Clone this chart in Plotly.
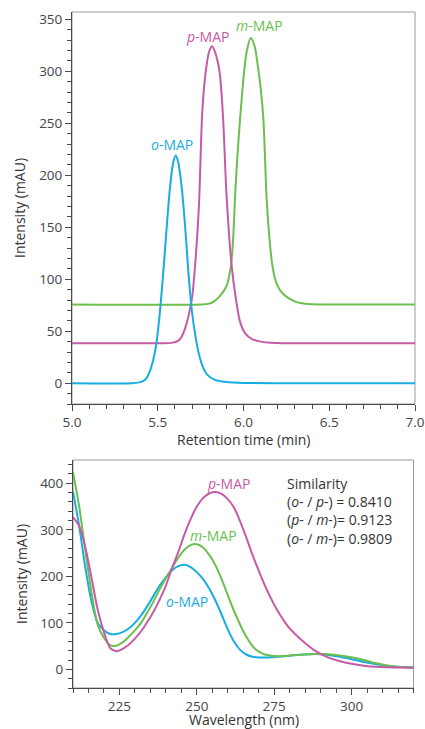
import plotly.graph_objects as go

# chromatogram (retention time in min, intensity in mAU)
t_o = [5.00, 5.35, 5.40, 5.43, 5.45, 5.47, 5.49, 5.51, 5.53, 5.55, 5.57, 5.59, 5.605,
       5.62, 5.64, 5.66, 5.68, 5.70, 5.72, 5.74, 5.76, 5.79, 5.83, 5.90, 6.00, 7.00]
i_o = [0, 0, 1, 4, 10, 20, 36, 64, 102, 145, 186, 212, 219,
       212, 188, 150, 104, 68, 45, 28, 17, 8, 3.5, 1.2, 0.3, 0]

t_p = [5.00, 5.55, 5.59, 5.62, 5.64, 5.66, 5.68, 5.70, 5.72, 5.74, 5.76, 5.78, 5.80, 5.817,
       5.835, 5.86, 5.88, 5.90, 5.915, 5.93, 5.955, 5.98, 6.01, 6.05, 6.10, 6.16, 6.25, 7.00]
i_p = [38.5, 38.5, 39, 41, 45, 53, 65, 82, 118, 170, 262, 300, 319, 324,
       318, 300, 258, 184, 145, 114, 82, 59, 48, 42.5, 40, 38.8, 38.5, 38.5]

t_m = [5.00, 5.75, 5.80, 5.83, 5.86, 5.89, 5.905, 5.915, 5.927, 5.94, 5.95, 5.965, 5.98,
       6.005, 6.02, 6.042, 6.065, 6.086, 6.10, 6.116, 6.135, 6.15, 6.165, 6.18, 6.195,
       6.215, 6.24, 6.27, 6.31, 6.36, 6.45, 7.00]
i_m = [75.7, 75.7, 76.5, 79, 83.5, 90, 95, 102, 113, 140, 177, 220, 254,
       302, 320, 332, 324, 302, 284, 254, 177, 142, 117, 103, 95,
       89, 84.5, 81, 78, 76.5, 75.8, 75.7]

# UV spectra (wavelength in nm, intensity in mAU)
wl = [210, 212, 214, 216, 218, 220, 222, 224, 226, 228, 230, 232, 234, 236, 238, 240,
      242, 244, 246, 248, 250, 252, 254, 256, 258, 260, 262, 264, 266, 268, 270, 272,
      274, 276, 278, 280, 284, 288, 292, 296, 300, 304, 308, 312, 316, 320]
spec_o = [382, 308, 218, 145, 100, 84, 76, 76, 80, 88, 100, 116, 136, 158, 180, 198,
          213, 222, 225, 220, 209, 194, 174, 148, 118, 86, 60, 42, 32, 27, 25.5, 25.5,
          26, 27, 28, 29.5, 32, 33, 31.5, 27, 22, 16, 11, 7.5, 5, 4]
spec_m = [424, 350, 255, 165, 95, 68, 52, 51, 58, 70, 84, 100, 122, 146, 172, 196,
          218, 240, 257, 267, 269, 262, 246, 224, 194, 160, 126, 96, 70, 50, 38, 32,
          29.5, 28.5, 29, 30, 31.5, 33, 33, 30, 26, 20, 13, 8, 5, 4]
spec_p = [327, 308, 262, 196, 128, 80, 46, 39, 44, 53, 66, 82, 102, 124, 150, 180,
          218, 252, 290, 323, 350, 368, 378, 381, 377, 366, 348, 318, 283, 246, 212, 180,
          152, 127, 106, 88, 62, 41, 27, 18, 12, 8, 5.5, 4.5, 4, 3.5]

C_O = "#18ade0"
C_P = "#c75aa8"
C_M = "#6cbf4e"
FONT = "Open Sans"
W, H = 425, 729

fig = go.Figure()


def add_line(x, y, color, xa, ya):
    fig.add_trace(go.Scatter(
        x=x, y=y, mode="lines", xaxis=xa, yaxis=ya, showlegend=False,
        line=dict(color=color, width=2, shape="spline", smoothing=0.8),
        hoverinfo="skip",
    ))


add_line(t_m, i_m, C_M, "x", "y")
add_line(t_p, i_p, C_P, "x", "y")
add_line(t_o, i_o, C_O, "x", "y")
add_line(wl, spec_o, C_O, "x2", "y2")
add_line(wl, spec_m, C_M, "x2", "y2")
add_line(wl, spec_p, C_P, "x2", "y2")

# pixel boxes of the two plot areas: left, right, top, bottom
top_box = (72, 415, 12, 404)
bot_box = (73, 413.5, 460, 688)


def dom_x(b):
    return [b[0] / W, b[1] / W]


def dom_y(b):
    return [1 - b[3] / H, 1 - b[2] / H]


axis_common = dict(
    showgrid=False, zeroline=False, showline=True, linecolor="#4a4a4a", linewidth=1,
    ticks="outside", ticklen=6, tickcolor="#4a4a4a", tickwidth=1,
    tickfont=dict(family=FONT, size=13.5, color="#444"), automargin=False,
)
minor_tick = dict(ticks="outside", ticklen=4, tickcolor="#4a4a4a")

fig.update_layout(
    width=W, height=H,
    margin=dict(l=0, r=0, t=0, b=0),
    paper_bgcolor="white", plot_bgcolor="white",
    xaxis=dict(axis_common, domain=dom_x(top_box), anchor="y", range=[5.0, 7.0],
               tick0=5.0, dtick=0.5, tickformat=".1f", minor=dict(minor_tick, dtick=0.1)),
    yaxis=dict(axis_common, domain=dom_y(top_box), anchor="x", range=[-20, 357],
               tick0=0, dtick=50, minor=dict(minor_tick, dtick=10)),
    xaxis2=dict(axis_common, domain=dom_x(bot_box), anchor="y2", range=[210, 320],
                tick0=0, dtick=25, minor=dict(minor_tick, dtick=5)),
    yaxis2=dict(axis_common, domain=dom_y(bot_box), anchor="x2", range=[-40, 450],
                tick0=0, dtick=100, minor=dict(minor_tick, dtick=20)),
)

# light frame on top and right sides
for b in (top_box, bot_box):
    fig.add_shape(type="rect", xref="paper", yref="paper",
                  x0=b[0] / W, x1=b[1] / W, y0=1 - b[3] / H, y1=1 - b[2] / H,
                  line=dict(color="#9a9a9a", width=1), layer="below")

title_font = dict(family=FONT, size=14, color="#333")
axis_titles = [
    ("Retention time (min)", 243.5, 439, 0),
    ("Wavelength (nm)", 243.5, 719, 0),
    ("Intensity (mAU)", 19, 208, -90),
    ("Intensity (mAU)", 21, 574, -90),
]
for text, px, py, ang in axis_titles:
    fig.add_annotation(text=text, xref="paper", yref="paper", x=px / W, y=1 - py / H,
                       xanchor="center", yanchor="middle", showarrow=False,
                       textangle=ang, font=title_font)

peak_labels = [
    ("<i>o</i>-MAP", 5.583, 230, C_O, "x", "y"),
    ("<i>p</i>-MAP", 5.790, 333, C_P, "x", "y"),
    ("<i>m</i>-MAP", 6.096, 344, C_M, "x", "y"),
    ("<i>p</i>-MAP", 260.3, 399, C_P, "x2", "y2"),
    ("<i>m</i>-MAP", 255.3, 288, C_M, "x2", "y2"),
    ("<i>o</i>-MAP", 246.9, 145, C_O, "x2", "y2"),
]
for text, x, y, color, xr, yr in peak_labels:
    fig.add_annotation(text=text, x=x, y=y, xref=xr, yref=yr, showarrow=False,
                       xanchor="center", yanchor="middle",
                       font=dict(family=FONT, size=14, color=color))

sim_lines = [
    "Similarity",
    "(<i>o</i>- / <i>p</i>-) = 0.8410",
    "(<i>p</i>- / <i>m</i>-)= 0.9123",
    "(<i>o</i>- / <i>m</i>-)= 0.9809",
]
fig.add_annotation(text="<br>".join(sim_lines), xref="paper", yref="paper",
                   x=285 / W, y=1 - 511 / H, xanchor="left", yanchor="middle",
                   align="left", showarrow=False,
                   font=dict(family=FONT, size=14, color="#333"))

# page body has a default 8px margin; remove it so the figure sits at the corner
fig.write_html("out.html", config={"displayModeBar": False},
               post_script="document.body.style.margin='0';")
